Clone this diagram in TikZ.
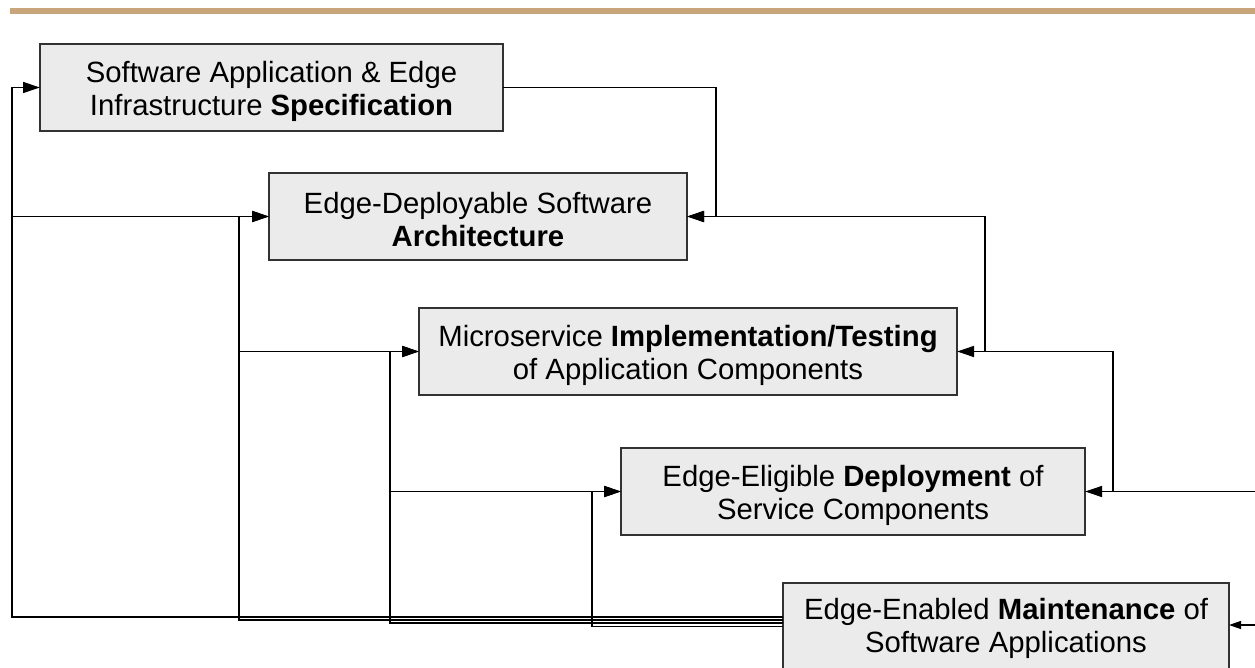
\documentclass[tikz,border=0pt]{standalone}
\usepackage{fontspec}
\setmainfont{Liberation Sans}
\usetikzlibrary{arrows.meta}
\definecolor{bartan}{RGB}{200,165,122}
\definecolor{boxfill}{RGB}{235,235,235}
\definecolor{boxline}{RGB}{50,50,50}
\tikzset{
  stagebox/.style={draw=boxline, line width=2pt, fill=boxfill, rectangle,
    inner sep=0pt, outer sep=0pt, minimum height=87pt},
  stagetext/.style={align=center, inner sep=0pt,
    font=\fontsize{29.3}{33}\selectfont},
  conn/.style={draw=black, line width=1.3pt},
  arr/.style={conn, -{Triangle[length=17pt,width=11pt]}},
  arrsmall/.style={conn, -{Triangle[length=12pt,width=8pt]}}
}
\begin{document}
\begin{tikzpicture}[x=1pt,y=-1pt]
\useasboundingbox (0,0) rectangle (1255,668);
\fill[bartan] (10,8) rectangle (1255,14);

\node[stagebox, minimum width=463pt] (Spec) at (271.5,87.5) {};
\node[stagebox, minimum width=418pt] (Arch) at (478,216.5) {};
\node[stagebox, minimum width=538pt] (Impl) at (688,351.5) {};
\node[stagebox, minimum width=464pt] (Deploy) at (853,491.5) {};
\node[stagebox, minimum width=446pt] (Maint) at (1006,626.5) {};

\node[stagetext] (SpecT) at ([yshift=-3.5pt]Spec.center)
  {Software Application \& Edge\\Infrastructure \textbf{Specification}};
\node[stagetext] (ArchT) at ([yshift=-3.5pt]Arch.center)
  {Edge-Deployable Software\\\textbf{Architecture}};
\node[stagetext] (ImplT) at ([yshift=-3.5pt]Impl.center)
  {Microservice \textbf{Implementation/Testing}\\of Application Components};
\node[stagetext] (DeployT) at ([yshift=-3.5pt]Deploy.center)
  {Edge-Eligible \textbf{Deployment} of\\Service Components};
\node[stagetext] (MaintT) at ([yshift=-2pt]Maint.center)
  {Edge-Enabled \textbf{Maintenance} of\\Software Applications};

% right-side feedback
\coordinate (inD) at (1255,491.5);
\coordinate (j2) at (1113,491.5);
\coordinate (j1) at (985,351.5);
\coordinate (inM) at (1255,625);
\draw[arr] (inD) -- (Deploy.east);
\draw[arr] (j2) |- (Impl.east);
\draw[arr] (j1) |- (Arch.east);
\draw[arr] (Spec.east) -| ([xshift=29pt]Arch.east) -- (Arch.east);
\draw[arrsmall] (inM) -- (Maint.east |- inM);

% left-side feedback from maintenance
\coordinate (c1) at (12,617);
\coordinate (c2) at (239,620);
\coordinate (c3) at (390,623);
\coordinate (c4) at (592,626.5);
\draw[arr] ([yshift=9.5pt]Maint.west) -- (c1) |- (Spec.west);
\draw[arr] (c1 |- Arch.west) -- (Arch.west);
\draw[arr] ([yshift=6.5pt]Maint.west) -- (c2) |- (Arch.west);
\draw[arr] (c2 |- Impl.west) -- (Impl.west);
\draw[arr] ([yshift=3.5pt]Maint.west) -- (c3) |- (Impl.west);
\draw[arr] (c3 |- Deploy.west) -- (Deploy.west);
\draw[arr] (Maint.west) -- (c4) |- (Deploy.west);
\end{tikzpicture}
\end{document}
